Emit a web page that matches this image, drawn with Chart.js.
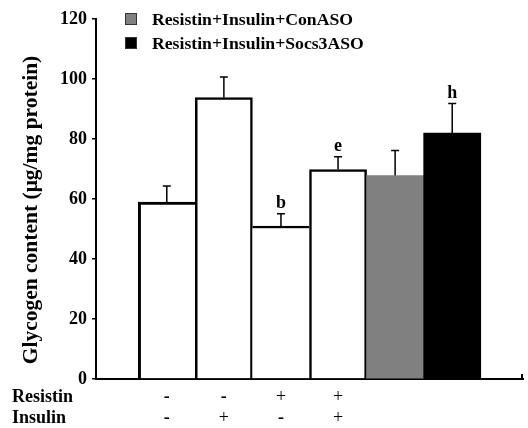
<!DOCTYPE html>
<html>
<head>
<meta charset="UTF-8">
<title>Glycogen content</title>
<script src="https://cdn.jsdelivr.net/npm/chart.js"></script>
<style>
  *{padding: 0; margin: 0;}
  body{background: #fff;}
  #wrap{width: 528px; height: 428px; position: relative;}
</style>
</head>
<body>
<div id="wrap"><canvas id="myChart"></canvas></div>
<script>
// data
const glycogen = [59, 93.8, 51, 69.8, 67.8, 82];      // bar heights
const errTop   = [64.3, 100.7, 55.1, 74.1, 76.2, 91.8]; // top of error bars
const letters  = ['', '', 'b', 'e', '', 'h'];
const barColors = ['#ffffff', '#ffffff', '#ffffff', '#ffffff', '#808080', '#000000'];
const resistin = ['-', '-', '+', '+'];
const insulin  = ['-', '+', '-', '+'];
const legendNames  = ['Resistin+Insulin+ConASO', 'Resistin+Insulin+Socs3ASO'];
const legendColors = ['#808080', '#000000'];
const yTicks = [0, 20, 40, 60, 80, 100, 120];

const serif = '"Liberation Serif", "Times New Roman", serif';

// outlines: shared edges drawn once, by the taller bar
const outlines = [
  {left: 3, top: 3, right: 0, bottom: 0},
  {left: 2.5, top: 2.5, right: 2.5, bottom: 0},
  {left: 0, top: 2.5, right: 0, bottom: 0},
  {left: 2.5, top: 2.5, right: 2.5, bottom: 0},
  0, 0
];

// error bars, letters, sign rows, legend, y title
const extras = {
  id: 'extras',
  afterDatasetsDraw(chart) {
    const ctx = chart.ctx;
    const xs = chart.scales.x, ys = chart.scales.y;
    ctx.save();
    ctx.strokeStyle = '#000';
    ctx.fillStyle = '#000';
    ctx.lineWidth = 1.5;
    for (let i = 0; i < glycogen.length; i++) {
      const x = xs.getPixelForValue(i);
      const y0 = ys.getPixelForValue(glycogen[i]);
      const y1 = ys.getPixelForValue(errTop[i]);
      ctx.beginPath();
      ctx.moveTo(x, y0); ctx.lineTo(x, y1);
      ctx.moveTo(x - 4, y1); ctx.lineTo(x + 4, y1);
      ctx.stroke();
      if (letters[i]) {
        ctx.font = 'bold 18px ' + serif;
        ctx.textAlign = 'center';
        ctx.textBaseline = 'alphabetic';
        ctx.fillText(letters[i], x, y1 - 6);
      }
    }
    // little tick at right end of x axis
    ctx.lineWidth = 2;
    ctx.beginPath();
    ctx.moveTo(xs.right - 1, ys.bottom); ctx.lineTo(xs.right - 1, ys.bottom - 5);
    ctx.stroke();

    // treatment rows
    ctx.font = 'bold 18px ' + serif;
    ctx.textAlign = 'left';
    ctx.textBaseline = 'middle';
    ctx.fillText('Resistin', 12, 397);
    ctx.fillText('Insulin', 12, 418);
    ctx.textAlign = 'center';
    const sign = (s, x, y) => {
      ctx.font = (s === '-' ? 'bold ' : '') + '18px ' + serif;
      ctx.fillText(s, x, y);
    };
    for (let i = 0; i < resistin.length; i++) {
      const x = xs.getPixelForValue(i);
      sign(resistin[i], x, 397);
      sign(insulin[i], x, 418);
    }

    // legend
    ctx.font = 'bold 17.7px ' + serif;
    ctx.textAlign = 'left';
    for (let k = 0; k < legendNames.length; k++) {
      const cy = 19 + k * 24;
      ctx.fillStyle = legendColors[k];
      ctx.fillRect(125, cy - 6, 12, 12);
      ctx.lineWidth = 1;
      ctx.strokeStyle = '#333';
      ctx.strokeRect(125.5, cy - 5.5, 11, 11);
      ctx.fillStyle = '#000';
      ctx.fillText(legendNames[k], 152, cy + 1);
    }

    // y axis title
    ctx.translate(31, 210);
    ctx.rotate(-Math.PI / 2);
    ctx.font = 'bold 21.5px ' + serif;
    ctx.textAlign = 'center';
    ctx.fillText('Glycogen content (\u03bcg/mg protein)', 0, 0);
    ctx.restore();
  }
};

new Chart(document.getElementById('myChart'), {
  type: 'bar',
  data: {
    datasets: [{
      data: glycogen.map((v, i) => ({x: i, y: v})),
      backgroundColor: barColors,
      borderColor: '#000',
      borderWidth: c => outlines[c.dataIndex],
      borderSkipped: false,
      barPercentage: 1,
      categoryPercentage: 1
    }]
  },
  options: {
    responsive: true,
    maintainAspectRatio: false,
    animation: false,
    layout: {padding: {left: 0, right: 5, top: 19, bottom: 0}},
    plugins: {legend: {display: false}, tooltip: {enabled: false}},
    scales: {
      x: {
        type: 'linear',
        offset: false,
        min: -1.24, max: 6.24,
        ticks: {display: false},
        grid: {display: false, offset: false},
        border: {display: true, color: '#000', width: 2},
        afterFit(s) { s.height = 49; }
      },
      y: {
        min: 0, max: 120,
        afterBuildTicks(s) { s.ticks = yTicks.map(v => ({value: v})); },
        ticks: {color: '#000', font: {family: serif, size: 18, weight: 'bold'}, padding: 5},
        grid: {drawOnChartArea: false, tickLength: 4, color: '#000', lineWidth: 1.5},
        border: {display: true, color: '#000', width: 2},
        afterFit(s) { s.width = 96; }
      }
    }
  },
  plugins: [extras]
});
</script>
</body>
</html>
